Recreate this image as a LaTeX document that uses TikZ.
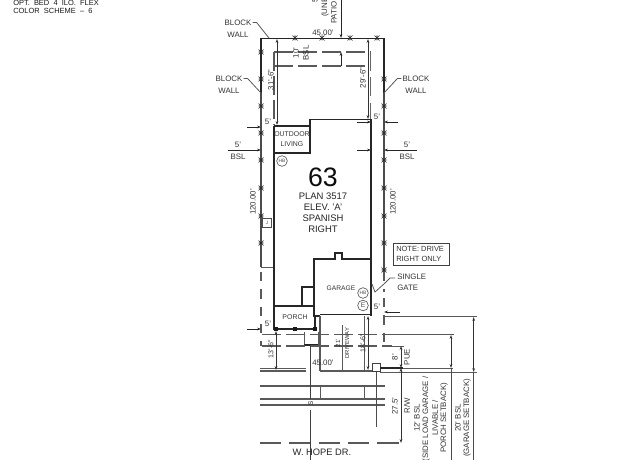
\documentclass[tikz,border=0pt]{standalone}
\usepackage{fontspec}
\setmainfont{Liberation Sans}
\usetikzlibrary{arrows.meta}
\tikzset{
  wall/.style={line width=1.1pt,black!85},
  lot/.style={line width=.8pt,black!70},
  thin/.style={line width=.6pt,black!65},
  road/.style={line width=.8pt,black!65},
  dashline/.style={line width=.85pt,black!65,dash pattern=on 14pt off 4pt},
  dim/.style={line width=.5pt,black!80,{Stealth[length=3pt,width=2pt]}-{Stealth[length=3pt,width=2pt]}},
  ptr/.style={line width=.6pt,black!85,-{Stealth[length=3pt,width=2pt]}},
  lbl/.style={inner sep=0pt,text=black!80,font=\fontsize{5.9}{6}\selectfont,align=center},
  vlbl/.style={lbl,rotate=90},
  big/.style={inner sep=0pt,text=black!85,font=\fontsize{7.1}{8}\selectfont},
  circ/.style={circle,draw=black!70,line width=.45pt,minimum size=8pt,inner sep=0pt,text=black!70,font=\fontsize{3.6}{4}\selectfont}
}
\newcommand{\crossmark}[2]{\draw[line width=.5pt,black!85] (#1-2.5,#2-2.5) -- (#1+2.5,#2+2.5) (#1-2.5,#2+2.5) -- (#1+2.5,#2-2.5) (#1-2.5,#2) -- (#1+2.5,#2);}
\newcommand{\crosstop}[2]{\draw[line width=.5pt,black!85] (#1-2.5,#2-2.5) -- (#1+2.5,#2+2.5) (#1-2.5,#2+2.5) -- (#1+2.5,#2-2.5) (#1,#2-2.5) -- (#1,#2+2.5);}
\begin{document}
\begin{tikzpicture}[x=0.75pt,y=-0.75pt]
\clip (0,0) rectangle (640,460);
\fill[white] (0,0) rectangle (640,460);
% title
\node[lbl,anchor=west,font=\fontsize{5.6}{6}\selectfont,text=black!90] (t1) at (13,3) {OPT.\ \ BED\ \ 4\ \ ILO.\ \ FLEX};
\node[lbl,anchor=west,font=\fontsize{5.6}{6}\selectfont,text=black!90] (t2) at (13,11) {COLOR\ \ SCHEME\ \ –\ \ 6};
% lot
\draw[wall] (261,93) -- (261,38.5) -- (384,38.5) -- (384,93);
\draw[lot] (261,93) -- (261,267);
\draw[lot] (384,93) -- (384,272);
\draw[thin] (261,267) -- (274,267);
\draw[line width=.8pt,black!65,dash pattern=on 7pt off 6pt] (261,272) -- (261,346);
\draw[line width=.8pt,black!65,dash pattern=on 7pt off 6pt] (384,272) -- (384,292);
\draw[line width=.8pt,black!65,dash pattern=on 7pt off 6pt] (384,298) -- (384,350);
\foreach \y in {52,79,106,133,160,188,216,243} {\crossmark{261}{\y}}
\foreach \y in {79,106,133,160,188,216,243,270} {\crossmark{384}{\y}}
\foreach \x in {295,322,350,377} {\crosstop{\x}{38}}
% setback
\draw[dashline] (274,52) -- (371,52);
\draw[dashline] (274,66) -- (371,66);
\draw[dashline] (274,52) -- (274,125);
\draw[line width=.7pt,black!60,dash pattern=on 14pt off 5pt] (370,52) -- (370,119);
% house
\draw[wall] (274,126) -- (310,126) -- (310,153) -- (274,153);
\draw[wall] (310,126) -- (310,119.5) -- (371,119.5) -- (371,316);
\draw[wall] (274,126) -- (274,306) -- (302,306) -- (302,287) -- (314,287) -- (314,259) -- (335,259) -- (335,253) -- (342,253) -- (342,259) -- (371,259);
\draw[wall] (314,287) -- (314,316) -- (320,316) (320,314.5) -- (371,314.5);
\draw[wall] (302,306) -- (314,306);
% porch
\draw[line width=1pt,black!85] (274,306) -- (274,329) -- (315,329) -- (315,316);
\foreach \x in {276,295,315} {\fill[black!90] (\x-2,327) rectangle (\x+2,331);}
\draw[thin] (304,332) -- (304,345) -- (318,345) -- (318,332);
\draw[wall] (304,345) -- (318,345);
% street
\draw[dashline] (262,334.7) -- (385,334.7);
\draw[dashline] (262,346) -- (392,346);
\draw[road] (320,316) -- (320,371);
\draw[thin] (342,325) -- (342,370);
\draw[thin] (364,316) -- (364,372);
\draw[road] (260,371) -- (306,371) (320,371) -- (372,371);
\draw[thin] (260,368.5) -- (306,368.5);
\draw[road] (260,386) -- (385,386);
\draw[road] (260,399) -- (385,399);
\draw[road] (260,405) -- (385,405);
\draw[thin] (320,386) -- (320,399) (364,386) -- (364,399);
\draw[line width=.9pt,black!65,dash pattern=on 16pt off 6pt] (260,443) -- (404,443);
\draw[line width=.7pt,black!75] (310.7,345) -- (310.7,399) (310.7,410) -- (310.7,460);
\node[draw=black!75,line width=.6pt,minimum size=6pt,inner sep=0pt] (wbox) at (376,367.5) {};
\draw[line width=.7pt,black!70] (wbox) -- (376,427);
% right dims
\draw[thin] (384,316.7) -- (477,316.7);
\draw[thin] (385,334.7) -- (454,334.7);
\draw[thin] (385,346) -- (404,346);
\draw[wall] (380,368) -- (403,368);
\draw[thin] (403,368) -- (453,368);
\draw[thin] (380,372) -- (477,372);
\draw[dim] (473.7,317) -- (473.7,372);
\draw[line width=.5pt,black!70] (473.7,372) -- (473.7,460);
\draw[dim] (451,335) -- (451,368);
\draw[line width=.5pt,black!70] (451,368) -- (451,460);
\draw[dim] (401,346) -- (401,368);
\draw[dim] (401,368) -- (401,443);
\node[vlbl] (n8) at (395,357) {8'};
\node[vlbl] (pue) at (407,357) {PUE};
\node[vlbl] (n27) at (395,406) {27.5'};
\node[vlbl] (rw) at (407,406) {R/W};
\node[vlbl] (b12) at (417,418) {12' BSL};
\node[vlbl] (b12a) at (426,419) {(SIDE LOAD GARAGE /};
\node[vlbl] (b12b) at (435,418) {LIVABLE /};
\node[vlbl] (b12c) at (444,418) {PORCH SETBACK)};
\node[vlbl] (b20) at (458,418) {20' BSL};
\node[vlbl] (b20a) at (467,418) {(GARAGE SETBACK)};
% top dims
\coordinate (tp) at (341,0);
\draw[ptr] (tp) -- (341,38);
\draw[ptr] (341,66) -- (341,52);
\node[vlbl,anchor=west] (un) at (325,17) {(UNE};
\node[vlbl,anchor=west] (pa) at (334,24) {PATIO};
\node[vlbl,anchor=west] (fv) at (315,3) {5'};
\node[lbl] (w45) at (323,33) {45.00'};
\node[vlbl] (h10) at (296,53) {10'};
\node[vlbl] (hb) at (306,53) {BSL};
\draw[dim] (277,39) -- (277,125);
\draw[dim] (368,39) -- (368,119);
\node[vlbl] (a31) at (271,80) {31'-6"};
\node[vlbl] (a29) at (363,78) {29'-6"};
% block walls
\node[lbl] (bw1) at (238,28.5) {BLOCK\\[3pt]WALL};
\node[lbl] (bw2) at (229,84.5) {BLOCK\\[3pt]WALL};
\node[lbl] (bw3) at (416,84.5) {BLOCK\\[3pt]WALL};
\draw[thin] (bw1.north east) ++(1,3) -- ++(4,0) -- (269,38);
\draw[thin] (bw2.north east) ++(1,3) -- ++(4,0) -- (261,93);
\draw[thin] (bw3.north west) ++(-1,3) -- ++(-4,0) -- (384,93);
% 5' marks
\node[lbl] (f1) at (268,122) {5'};
\node[lbl] (f2) at (377,117) {5'};
\draw[ptr] (247,127) -- (261,127);
\draw[ptr] (398,122) -- (384,122);
\draw[ptr] (357,122) -- (371,122);
\node[lbl] (f3) at (238,145) {5'};
\node[lbl] (b3) at (238,157) {BSL};
\draw[ptr] (228,150) -- (261,150);
\node[lbl] (f4) at (407,145) {5'};
\node[lbl] (b4) at (407,157) {BSL};
\draw[ptr] (417,150) -- (384,150);
\draw[ptr] (357,150) -- (371,150);
\node[lbl] (f5) at (377,307) {5'};
\draw[ptr] (400,312) -- (384,312);
\node[lbl] (f6) at (268,324) {5'};
\draw[ptr] (247,329) -- (261,329);
% labels
\node[lbl,font=\fontsize{5.2}{6}\selectfont] (od) at (292,139) {OUTDOOR\\[2pt]LIVING};
\node[circ] (c1) at (282,161) {HB};
\node[circ] (c2) at (363,293) {HB};
\node[circ,font=\fontsize{5}{5}\selectfont] (c3) at (363,305.5) {E};
\node[inner sep=0pt,text=black!95,font=\fontsize{20}{20}\selectfont] (lotn) at (323,177) {63};
\node[big] (p1) at (323,196) {PLAN 3517};
\node[big] (p2) at (323,207) {ELEV. 'A'};
\node[big] (p3) at (323,218) {SPANISH};
\node[big] (p4) at (323,229) {RIGHT};
\node[vlbl] (d1) at (253,202) {120.00'};
\node[vlbl] (d2) at (393,202) {120.00'};
\node[draw=black!70,line width=.5pt,minimum size=7pt,inner sep=0pt,text=black!70,font=\fontsize{3.5}{4}\selectfont] (jb) at (267,223) {J};
\node[draw=black!75,line width=.7pt,minimum width=41.5pt,minimum height=16.5pt,inner sep=0pt] (note) at (421.5,254) {};
\node[lbl,anchor=west,align=left,font=\fontsize{5.6}{7.5}\selectfont] (notet) at (396,254) {NOTE: DRIVE\\RIGHT ONLY};
\node[lbl,anchor=west,align=left] (sg) at (397,282.5) {SINGLE\\[2.5pt]GATE};
\coordinate (g1) at (372,284);
\coordinate (g2) at (375,292);
\draw[thin] (g1) -- (g2) -- (385,283) -- (390,278) -- (395,278);
\node[lbl,font=\fontsize{5}{6}\selectfont] (gar) at (341,288) {GARAGE};
\node[lbl,font=\fontsize{5.2}{6}\selectfont] (po) at (295,316.7) {PORCH};
\node[vlbl,font=\fontsize{5.3}{6}\selectfont] (q13) at (271,349) {13'-6"};
\draw[dim] (276,331) -- (276,370);
\node[vlbl,font=\fontsize{4.6}{6}\selectfont] (q21) at (338,343) {21'};
\node[vlbl,font=\fontsize{4.4}{6}\selectfont] (qd) at (347,343) {DRIVEWAY};
\node[vlbl,font=\fontsize{5.3}{6}\selectfont] (q18) at (363,343) {18'-6"};
\draw[dim] (368,316) -- (368,370);
\node[lbl] (w45b) at (323,363) {45.00'};
\node[lbl,font=\fontsize{4.8}{6}\selectfont,rotate=90,text=black!85] (ss) at (310.7,403.5) {S};
\node[lbl,font=\fontsize{7}{8}\selectfont,text=black!85] (hope) at (322,452) {W. HOPE DR.};
\end{tikzpicture}
\end{document}
